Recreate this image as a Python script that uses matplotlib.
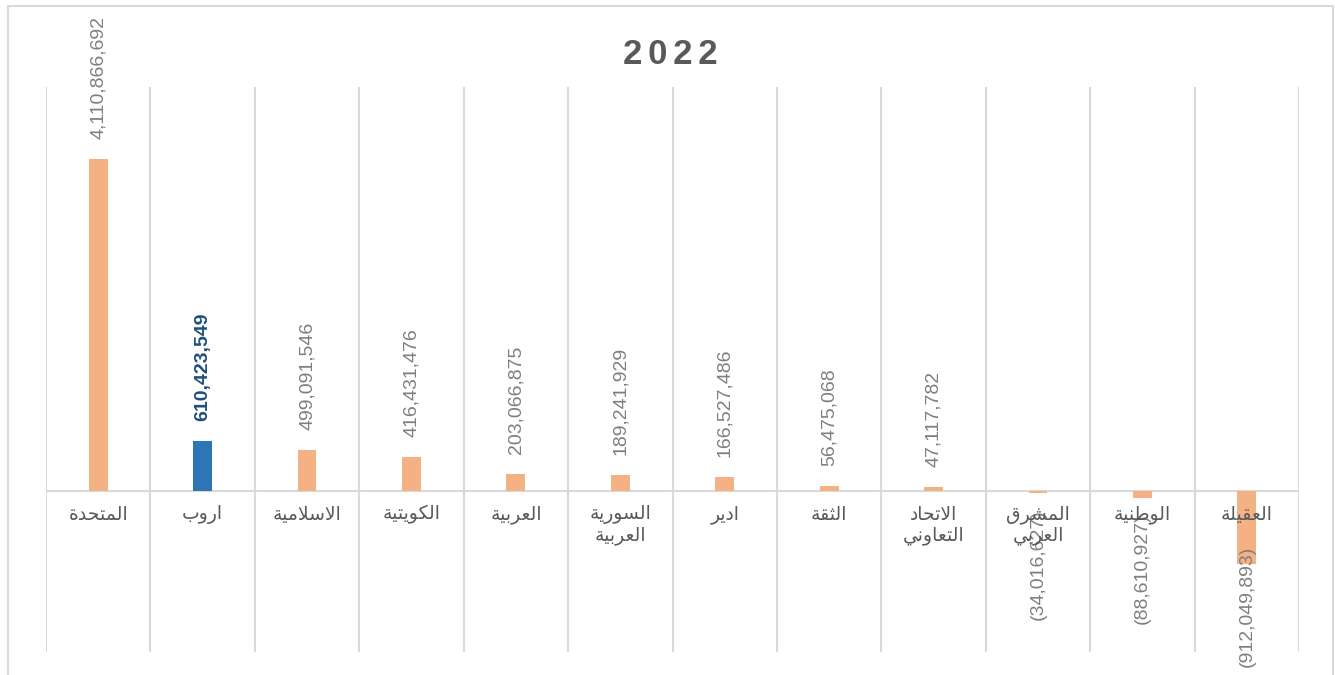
import matplotlib
matplotlib.use('Agg')
import matplotlib.pyplot as plt
from matplotlib.lines import Line2D

# bank names (logical order), values for 2022
categories = ['المتحدة', 'اروب', 'الاسلامية', 'الكويتية', 'العربية',
              'السورية\nالعربية', 'ادير', 'الثقة', 'الاتحاد\nالتعاوني',
              'المشرق\nالعربي', 'الوطنية', 'العقيلة']
values = [4110866692, 610423549, 499091546, 416431476, 203066875, 189241929,
          166527486, 56475068, 47117782, -34016627, -88610927, -912049893]
highlight = 1  # the blue one

# --- tiny arabic shaper (presentation forms), matplotlib has no shaping ---
FORMS = {  # isolated, final, initial, medial
    'ا': (0xFE8D, 0xFE8E, None, None), 'ب': (0xFE8F, 0xFE90, 0xFE91, 0xFE92),
    'ة': (0xFE93, 0xFE94, None, None), 'ت': (0xFE95, 0xFE96, 0xFE97, 0xFE98),
    'ث': (0xFE99, 0xFE9A, 0xFE9B, 0xFE9C), 'ح': (0xFEA1, 0xFEA2, 0xFEA3, 0xFEA4),
    'د': (0xFEA9, 0xFEAA, None, None), 'ر': (0xFEAD, 0xFEAE, None, None),
    'س': (0xFEB1, 0xFEB2, 0xFEB3, 0xFEB4), 'ش': (0xFEB5, 0xFEB6, 0xFEB7, 0xFEB8),
    'ط': (0xFEC1, 0xFEC2, 0xFEC3, 0xFEC4), 'ع': (0xFEC9, 0xFECA, 0xFECB, 0xFECC),
    'ق': (0xFED5, 0xFED6, 0xFED7, 0xFED8), 'ك': (0xFED9, 0xFEDA, 0xFEDB, 0xFEDC),
    'ل': (0xFEDD, 0xFEDE, 0xFEDF, 0xFEE0), 'م': (0xFEE1, 0xFEE2, 0xFEE3, 0xFEE4),
    'ن': (0xFEE5, 0xFEE6, 0xFEE7, 0xFEE8), 'و': (0xFEED, 0xFEEE, None, None),
    'ي': (0xFEF1, 0xFEF2, 0xFEF3, 0xFEF4),
}


def dual(c):
    return c in FORMS and FORMS[c][2] is not None


def shape_word(w):
    out = []
    i = 0
    while i < len(w):
        c = w[i]
        prev_joins = i > 0 and dual(w[i - 1])
        if c == 'ل' and i + 1 < len(w) and w[i + 1] == 'ا':
            out.append(chr(0xFEFC if prev_joins else 0xFEFB))
            i += 2
            continue
        nxt = i + 1 < len(w) and w[i + 1] in FORMS
        f = FORMS[c]
        if dual(c) and prev_joins and nxt:
            g = f[3]
        elif prev_joins:
            g = f[1]
        elif dual(c) and nxt:
            g = f[2]
        else:
            g = f[0]
        out.append(chr(g))
        i += 1
    return ''.join(out)


def rtl(text):
    lines = []
    for line in text.split('\n'):
        words = [shape_word(w)[::-1] for w in line.split(' ')]
        lines.append(' '.join(words[::-1]))
    return '\n'.join(lines)


W, H = 1335, 675
fig = plt.figure(figsize=(W / 100, H / 100), dpi=100)
ax = fig.add_axes([46 / W, 23 / H, 1253 / W, 565 / H])

n = len(values)
x = list(range(n))
colors = ['#2E75B6' if i == highlight else '#F4B183' for i in range(n)]
ax.bar(x, values, width=0.18, color=colors, zorder=3)

ax.set_xlim(-0.5, n - 0.5)
ax.set_ylim(-2.0e9, 5.0e9)
for s in ax.spines.values():
    s.set_visible(False)
ax.set_xticks([])
ax.set_yticks([])

# separators between categories + zero line
for b in range(n + 1):
    ax.axvline(b - 0.5, color='#D9D9D9', lw=1.5, zorder=1)
ax.axhline(0, color='#D9D9D9', lw=1.5, zorder=2)

gap = 0.25e9
for i, v in enumerate(values):
    if v >= 0:
        txt = f'{v:,}'
        y, va = v + gap, 'bottom'
    else:
        txt = f'({-v:,})'
        y, va = max(v - 0.2e9, -0.68e9), 'top'
    if i == highlight:
        ax.text(i, y, txt, rotation=90, ha='center', va=va, fontsize=14,
                color='#1F4E79', fontweight='bold', family='Liberation Sans',
                clip_on=False, zorder=4)
    else:
        ax.text(i, y, txt, rotation=90, ha='center', va=va, fontsize=14,
                color='#7F7F7F', family='Liberation Sans', clip_on=False, zorder=4)

for i, c in enumerate(categories):
    ax.text(i, -0.18e9, rtl(c), ha='center', va='top', fontsize=13.5,
            color='#595959', family='DejaVu Sans', linespacing=1.05, zorder=5)

fig.text(670 / W, 1 - 54 / H, '2\u20060\u20062\u20062', ha='center', va='center',
         fontsize=25, fontweight='bold', color='#595959',
         family=['Liberation Sans', 'DejaVu Sans'])

# chart frame
for xs, ys in [([8, 1333], [6, 6]), ([1333, 1333], [6, 675]), ([8, 8], [6, 675])]:
    fig.add_artist(Line2D([p / W for p in xs], [1 - p / H for p in ys],
                          color='#D9D9D9', lw=1.5))

fig.savefig('out.png', dpi=100)
